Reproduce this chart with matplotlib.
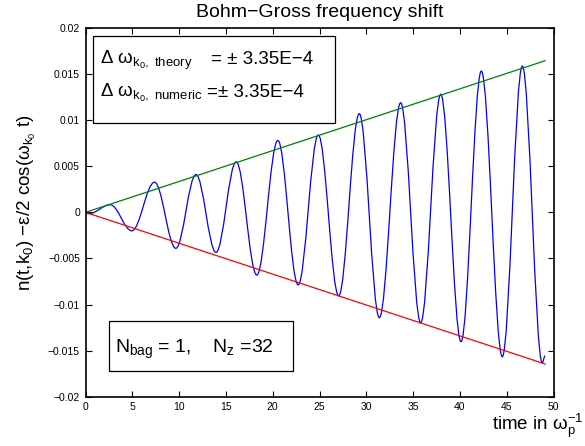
import matplotlib
matplotlib.use("Agg")
import matplotlib.pyplot as plt
from matplotlib.path import Path
from matplotlib.patches import PathPatch, Rectangle

plt.rcParams['font.family'] = ['Liberation Sans', 'DejaVu Sans']
plt.rcParams['mathtext.fontset'] = 'custom'
plt.rcParams['mathtext.rm'] = 'Liberation Sans'
plt.rcParams['mathtext.it'] = 'Liberation Sans'
plt.rcParams['mathtext.default'] = 'regular'

# turning points of the numeric curve
t_ext = [0.0, 0.35, 2.65, 4.95, 7.38, 9.65, 11.8, 13.94, 16.1, 18.3, 20.55,
         22.72, 24.87, 27.05, 29.25, 31.39, 33.67, 35.81, 37.95, 40.12,
         42.29, 44.53, 46.67, 48.8, 49.1]
n_ext = [0.0, -0.00015, 0.00083, -0.0020, 0.00327, -0.0039, 0.0041,
         -0.00434, 0.00548, -0.0068, 0.0078, -0.00787, 0.00839, -0.00905,
         0.0107, -0.01143, 0.01189, -0.01197, 0.0128, -0.01403, 0.01533,
         -0.01566, 0.01587, -0.01632, -0.01556]

# theoretical envelope  +/- 3.35E-4 * t
t_env = [0.0, 49.1]
upper = [0.0, 0.01645]
lower = [0.0, -0.01645]

xticks = [0, 5, 10, 15, 20, 25, 30, 35, 40, 45, 50]
yticks = [-0.02, -0.015, -0.01, -0.005, 0, 0.005, 0.01, 0.015, 0.02]
ylabels = ['\u22120.02', '\u22120.015', '\u22120.01', '\u22120.005', '0',
           '0.005', '0.01', '0.015', '0.02']

W, H = 585, 446
fig = plt.figure(figsize=(W / 100, H / 100), dpi=100)
ax = fig.add_axes([85.5 / W, 1 - 396.7 / H, 468 / W, 368.7 / H])

ax.plot(t_env, upper, color=(0, 0.5, 0), lw=0.9)
ax.plot(t_env, lower, color=(1, 0, 0), lw=0.9)

# smooth half-wave segments between turning points (cubic Bezier)
k = 0.3634
verts = [(t_ext[0], n_ext[0])]
codes = [Path.MOVETO]
for i in range(len(t_ext) - 1):
    dt = t_ext[i + 1] - t_ext[i]
    verts += [(t_ext[i] + k * dt, n_ext[i]),
              (t_ext[i + 1] - k * dt, n_ext[i + 1]),
              (t_ext[i + 1], n_ext[i + 1])]
    codes += [Path.CURVE4] * 3
ax.add_patch(PathPatch(Path(verts, codes), fill=False, edgecolor=(0, 0, 1),
                       lw=0.9, transform=ax.transData))

ax.set_xlim(0, 50)
ax.set_ylim(-0.02, 0.02)
ax.set_xticks(xticks)
ax.set_xticklabels([str(x) for x in xticks])
ax.set_yticks(yticks)
ax.set_yticklabels(ylabels)
ax.tick_params(direction='in', length=4, width=0.8, top=True, right=True,
               labelsize=7.5, pad=4)
for s in ax.spines.values():
    s.set_linewidth(1.2)

ax.set_title('Bohm\u2212Gross frequency shift', fontsize=14, pad=8)

fig.text(491.7 / W, 1 - 430 / H, r'time in ω$_p^{-1}$', fontsize=13.5,
         ha='left', va='baseline')
fig.text(27 / W, 1 - 203 / H, 'n(t,k$_0$) \u2212ε/2 cos(ω$_{k_0}$ t)',
         fontsize=13.5, rotation=90, ha='center', va='center')

# text boxes
ft = fig.transFigure
fig.patches.append(Rectangle((93.3 / W, 1 - 122.7 / H), 241.7 / W, 86.7 / H,
                             transform=ft, facecolor='white',
                             edgecolor='black', lw=0.9, figure=fig))
fig.text(100 / W, 1 - 63.5 / H, r'Δ ω$_{k_0,\ theory}$', fontsize=13.5,
         va='baseline')
fig.text(210.7 / W, 1 - 64 / H, '= ± 3.35E\u22124', fontsize=13.5,
         va='baseline')
fig.text(100 / W, 1 - 96.7 / H, r'Δ ω$_{k_0,\ numeric}$', fontsize=13.5,
         va='baseline')
fig.text(206.7 / W, 1 - 97 / H, '=± 3.35E\u22124', fontsize=13.5,
         va='baseline')

fig.patches.append(Rectangle((108.7 / W, 1 - 370.7 / H), 184.6 / W, 50 / H,
                             transform=ft, facecolor='white',
                             edgecolor='black', lw=0.9, figure=fig))
fig.text(115 / W, 1 - 353.3 / H, r'N$_{bag}$ = 1,    N$_z$ =32',
         fontsize=14, va='baseline')

fig.savefig('out.png', dpi=100)
